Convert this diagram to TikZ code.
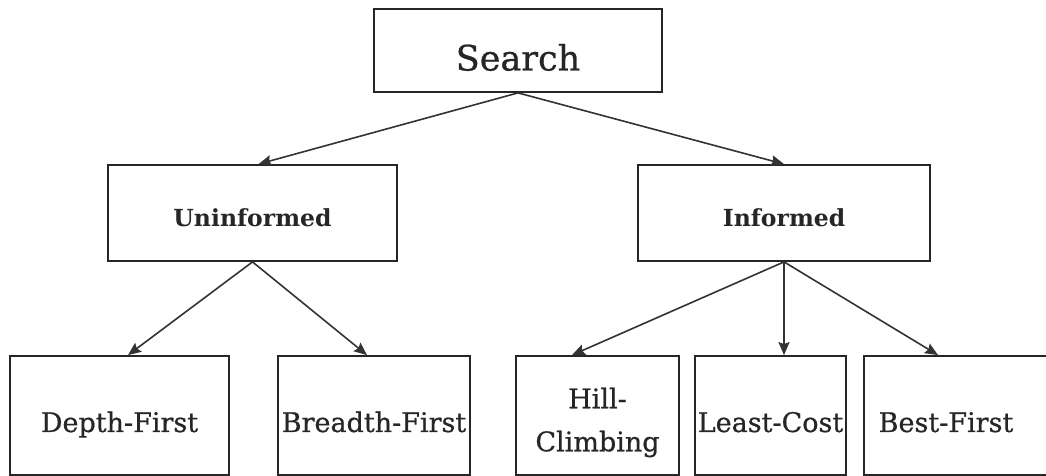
\documentclass[tikz,border=0pt]{standalone}
\usepackage{fontspec}
\setmainfont{DejaVu Serif}
\newfontfamily\slabmed[FakeBold=0.7]{DejaVu Serif}
\usetikzlibrary{arrows.meta,calc}
\definecolor{ink}{HTML}{262626}
\definecolor{edge}{HTML}{333333}
\tikzset{
  box/.style={draw=ink, line width=1.8pt, rectangle, inner sep=0pt, text=ink},
  toptext/.style={font=\slabmed\fontsize{35}{40}\selectfont, text height=40pt, text depth=0pt},
  midtext/.style={font=\bfseries\fontsize{23.5}{26}\selectfont, text height=27pt, text depth=0pt},
  lowtext/.style={font=\slabmed\fontsize{27}{43}\selectfont, text height=33pt, text depth=0pt},
  twoline/.style={font=\slabmed\fontsize{27}{43}\selectfont, align=center, text=ink, inner sep=0pt},
  conn/.style={draw=edge, line width=1.6pt, -{Stealth[length=13pt,width=11pt,inset=2pt]}}
}
\begin{document}
\begin{tikzpicture}[x=1pt,y=1pt]
\useasboundingbox[fill=white] (0,0) rectangle (1046,476);
% top
\node[box, toptext, minimum width=288pt, minimum height=83pt] (search) at (518,425.5) {Search};
% middle
\node[box, midtext, minimum width=289pt, minimum height=96pt] (unin) at (252.5,263) {Uninformed};
\node[box, midtext, minimum width=292pt, minimum height=96pt] (inf) at (784,263) {Informed};
% bottom
\node[box, lowtext, minimum width=219pt, minimum height=119pt] (depth) at (119.5,60.5) {Depth-First};
\node[box, lowtext, minimum width=192pt, minimum height=119pt] (breadth) at (374,60.5) {Breadth-First};
\node[box, minimum width=163pt, minimum height=119pt] (hill) at (597.5,60.5) {};
\node[twoline] (hilltext) at ($(hill.center)+(0,-7pt)$) {Hill-\\Climbing};
\node[box, lowtext, minimum width=151pt, minimum height=119pt] (least) at (770.5,60.5) {Least-Cost};
\node[box, minimum width=192pt, minimum height=119pt] (best) at (960,60.5) {};
\node[lowtext, text=ink, inner sep=0pt] (besttext) at (946,60.5) {Best-First};
% connectors
\draw[conn] (search.south) -- ($(unin.north)+(6pt,0)$);
\draw[conn] (search.south) -- (inf.north);
\draw[conn] (unin.south) -- ($(depth.north)+(8.5pt,0)$);
\draw[conn] (unin.south) -- ($(breadth.north)+(-7pt,0)$);
\draw[conn] (inf.south) -- ($(hill.north)+(-25.5pt,0)$);
\draw[conn] (inf.south) -- (inf.south |- least.north);
\draw[conn] (inf.south) -- ($(best.north)+(-22pt,0)$);
\end{tikzpicture}
\end{document}
